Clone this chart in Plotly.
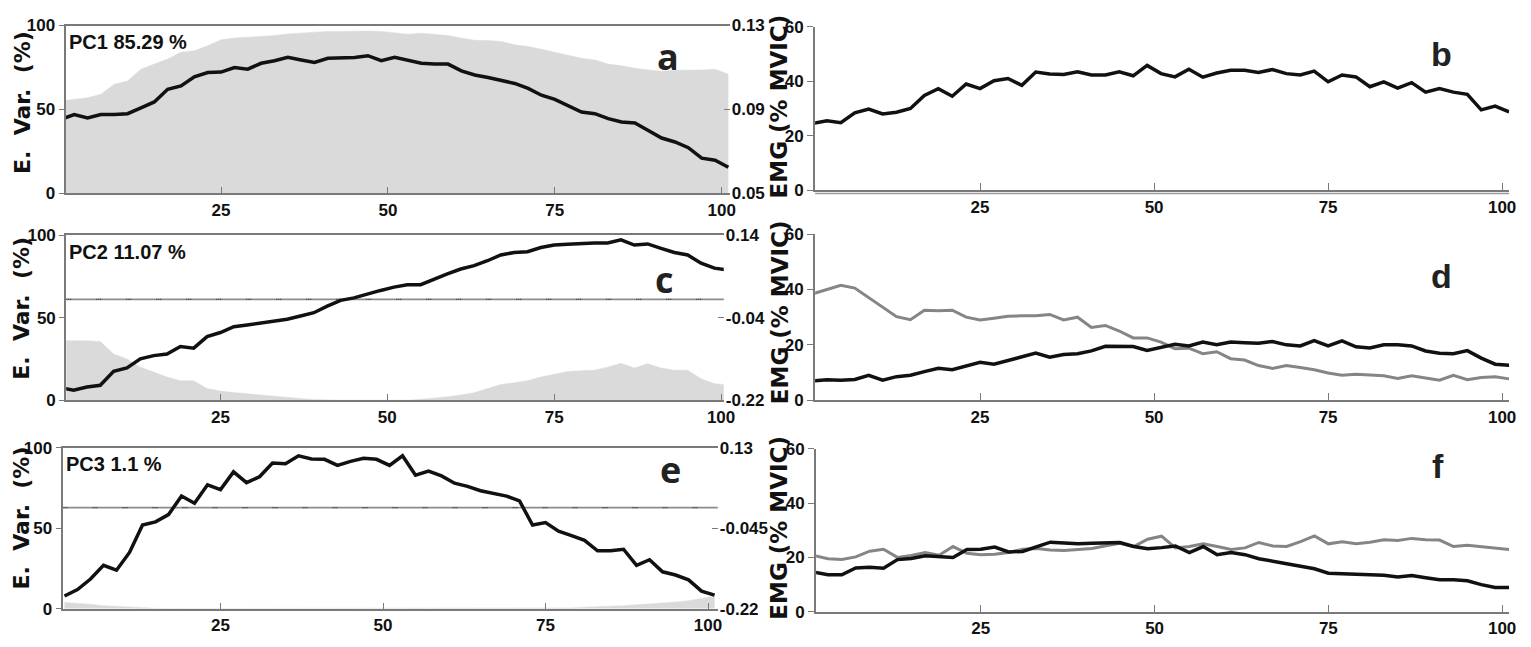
import plotly.graph_objects as go

# Normalised time (% of cycle), sampled every second point
t = list(range(1, 102, 2))

# PC1: explained variance (%) and loading vector
pc1_var = [55, 56, 57, 59, 65, 67, 74, 77, 80, 84, 85, 88, 91.5, 92.5, 93, 93.5, 94, 95, 95.5, 96,
           96.5, 96.5, 96.7, 96.7, 96.5, 95.5, 94.8, 95.4, 94.8, 94, 92.5, 91.2, 91, 90.5, 88.5, 87.5,
           85.8, 84, 82, 80.5, 79.5, 77, 76, 74.5, 73.5, 72.8, 73.4, 73.4, 73.5, 74, 71]
pc1_load = [0.0852, 0.0876, 0.086, 0.0876, 0.0876, 0.088, 0.0908, 0.0936, 0.0996, 0.1012, 0.1056,
            0.1076, 0.1078, 0.11, 0.1092, 0.112, 0.1132, 0.1148, 0.1136, 0.1124, 0.1144, 0.1144,
            0.1148, 0.1156, 0.1132, 0.1148, 0.1136, 0.112, 0.1116, 0.1116, 0.1084, 0.1064, 0.1052,
            0.1036, 0.1024, 0.1, 0.0968, 0.0948, 0.0916, 0.0888, 0.088, 0.0856, 0.084, 0.0836, 0.08,
            0.0764, 0.0745, 0.0718, 0.0668, 0.0658, 0.0625]

# PC2
pc2_var = [36, 36, 36, 35.5, 28, 25, 20, 17, 14, 11.8, 11.8, 7, 5.5, 4.6, 3.8, 3, 2.5, 1.8, 1, 0.4,
           0, 0, 0, 0, 0, 0, 0, 0.5, 1.2, 2, 3.2, 4.5, 7, 9.5, 10.5, 11.8, 14, 15.5, 17.3, 17.8, 18.2,
           20, 22.4, 19.5, 22, 19.5, 18.2, 18.2, 13, 10, 9.4]
pc2_load = [-0.1926, -0.1984, -0.1912, -0.1876, -0.157, -0.1498, -0.13, -0.1228, -0.1192, -0.103,
            -0.1066, -0.0814, -0.0724, -0.0598, -0.0562, -0.0526, -0.049, -0.0436, -0.0364, -0.0292,
            -0.0148, -0.0022, 0.0032, 0.0122, 0.0194, 0.0266, 0.032, 0.032, 0.0446, 0.0554, 0.0662,
            0.0734, 0.0842, 0.0968, 0.1022, 0.104, 0.113, 0.1184, 0.1202, 0.122, 0.1231, 0.1231,
            0.1299, 0.1184, 0.1209, 0.1112, 0.1022, 0.0968, 0.0788, 0.068, 0.0637]

# PC3
pc3_var = [4, 3.5, 2.8, 2, 1.5, 1, 0.5, 0.3, 0.2, 0.2, 0.2, 0.2, 0.2, 0.2, 0.2, 0.2, 0.3, 0.4, 0.5,
           0.5, 0.5, 0.5, 0.5, 0.4, 0.3, 0.3, 0.3, 0.3, 0.2, 0.2, 0.2, 0.2, 0.2, 0.2, 0.2, 0.2, 0.3,
           0.3, 0.4, 0.6, 1, 1.2, 1.5, 2, 2.5, 3, 3.5, 4.2, 5, 6.5, 8]
pc3_load = [-0.192, -0.178, -0.1553, -0.1255, -0.136, -0.0975, -0.038, -0.031, -0.0153, 0.025,
            0.0093, 0.0495, 0.039, 0.0775, 0.0541, 0.067, 0.0968, 0.095, 0.1125, 0.1055, 0.1048,
            0.0915, 0.1003, 0.1069, 0.1048, 0.0915, 0.1125, 0.0705, 0.0793, 0.0688, 0.053, 0.046,
            0.0366, 0.0303, 0.025, 0.0145, -0.038, -0.0324, -0.0513, -0.0608, -0.0713, -0.094,
            -0.094, -0.0905, -0.1255, -0.1133, -0.1395, -0.1465, -0.157, -0.1815, -0.1903]

# EMG envelopes (% MVIC)
emg_b = [24.5, 25.5, 24.8, 28.4, 29.8, 28, 28.6, 30, 34.8, 37.3, 34.5, 39, 37.3, 40.2, 41, 38.5,
         43.4, 42.7, 42.5, 43.5, 42.3, 42.3, 43.5, 42, 45.8, 42.8, 41.6, 44.4, 41.5, 43, 44, 44,
         43.2, 44.3, 42.8, 42.3, 43.7, 39.8, 42.3, 41.6, 38, 39.8, 37.5, 39.5, 36, 37.3, 36, 35.2,
         29.5, 30.9, 28.8]
emg_d_black = [7, 7.4, 7.2, 7.5, 9, 7.2, 8.5, 9, 10.3, 11.5, 11, 12.5, 13.7, 13, 14.4, 15.8, 17,
               15.5, 16.5, 16.8, 17.8, 19.5, 19.3, 19.4, 18, 19, 20.2, 19.6, 21, 20, 21, 20.8, 20.6,
               21.2, 20, 19.6, 21.5, 19.6, 21.4, 19.3, 18.9, 20, 20, 19.6, 17.8, 17, 16.8, 17.9,
               15.2, 13, 12.6]
emg_d_gray = [38.5, 40, 41.5, 40.5, 37, 33.5, 30.2, 29.1, 32.5, 32.3, 32.5, 30, 29, 29.6, 30.3,
              30.5, 30.5, 31, 29, 30, 26.3, 27, 25, 22.5, 22.5, 21, 18.6, 18.8, 16.8, 17.5, 15,
              14.5, 12.5, 11.5, 12.5, 11.8, 11, 9.8, 9, 9.4, 9.2, 8.8, 7.8, 8.8, 8, 7.2, 9, 7.4,
              8.2, 8.5, 7.7]
emg_f_black = [14.6, 13.6, 13.6, 16.1, 16.4, 16, 19.2, 19.6, 20.6, 20.2, 20, 22.9, 23, 23.8, 22,
               22.2, 23.8, 25.6, 25.3, 25, 25.2, 25.3, 25.5, 24, 23.2, 23.6, 24.2, 21.8, 24, 21,
               21.8, 21, 19.5, 18.6, 17.6, 16.8, 15.8, 14.2, 14, 13.6, 13.4, 13.4, 12.8, 13.3,
               12.5, 11.8, 11.8, 11.4, 10, 8.9, 8.9]
emg_f_gray = [20.7, 19.5, 19.2, 20.2, 22.3, 23, 20, 20.7, 21.8, 20.8, 24, 21.5, 21, 21.2, 21.8,
              23, 23.3, 22.7, 22.5, 22.9, 23.3, 24.3, 25.2, 24, 26.7, 27.8, 23.5, 24, 25, 24, 22.9,
              23.5, 25.5, 24.2, 24, 25.8, 27.9, 25, 25.8, 25, 25.6, 26.5, 26.2, 27, 26.5, 26.4, 24,
              24.5, 24, 23.5, 22.9]

pc_titles = ["PC1 85.29 %", "PC2 11.07 %", "PC3 1.1 %"]
panel_letters = ["a", "b", "c", "d", "e", "f"]
x_ticks = [25, 50, 75, 100]
var_ticks = [0, 50, 100]
emg_ticks = [0, 20, 40, 60]
load_ticks = [[0.05, 0.09, 0.13], [-0.22, -0.04, 0.14], [-0.22, -0.045, 0.13]]
load_ticktext = [["0.05", "0.09", "0.13"], ["-0.22", "-0.04", "0.14"], ["-0.22", "-0.045", "0.13"]]

W, H = 1531, 647
ARIAL = "Liberation Sans, Arial, sans-serif"
WIDE = "DejaVu Sans, Arial, sans-serif"
BLACK = "#111111"
GREY_LINE = "#858585"
FILL = "#dadada"
AXIS = "#7a7a7a"


def px_dom(a, b, total):
    return [a / total, b / total]


def py_dom(top, bottom):
    return [1 - bottom / H, 1 - top / H]


fig = go.Figure()

# left column: (x domain px, y domain px, x range)
left_geo = [
    ((66, 735), (17, 190), [1.7, 101.2]),
    ((66.7, 729), (233, 403), [1.9, 100.4]),
    ((63, 723), (452, 618), [0.7, 101.5]),
]
right_geo = [
    ((821, 1520), (18.3, 186.7)),
    ((821, 1520), (232, 403)),
    ((822, 1520), (453, 621)),
]

pc_vars = [pc1_var, pc2_var, pc3_var]
pc_loads = [pc1_load, pc2_load, pc3_load]

tick_font = dict(family=ARIAL, size=17, color=BLACK, weight="bold")

for i in range(3):
    xa = "x" if i == 0 else f"x{i + 1}"
    ya_l = f"y{2 * i + 1}" if i > 0 else "y"
    ya_r = f"y{2 * i + 2}"
    (x0, x1), (top, bottom), xr = left_geo[i]
    # zero reference of the loading vector
    if i > 0:
        fig.add_shape(type="line", xref=f"{xa} domain", yref=ya_r, x0=0, x1=1, y0=0, y1=0,
                      line=dict(color="#8c8c8c", width=1.6), layer="below")
        fig.add_shape(type="line", xref=f"{xa} domain", yref=ya_r, x0=0, x1=1, y0=0, y1=0,
                      line=dict(color="#3a3a3a", width=1.2, dash="1px,1px,1px,1px,1px,25px"),
                      layer="below")
    fig.add_trace(go.Scatter(x=t, y=pc_vars[i], mode="lines", fill="tozeroy",
                             fillcolor=FILL, line=dict(color=FILL, width=0.5),
                             xaxis=xa, yaxis=ya_l, showlegend=False))
    fig.add_trace(go.Scatter(x=t, y=pc_loads[i], mode="lines",
                             line=dict(color=BLACK, width=3.5),
                             xaxis=xa, yaxis=ya_r, showlegend=False))
    xkey = "xaxis" if i == 0 else f"xaxis{i + 1}"
    ykey_l = "yaxis" if i == 0 else f"yaxis{2 * i + 1}"
    ykey_r = f"yaxis{2 * i + 2}"
    fig.update_layout(**{
        xkey: dict(domain=px_dom(x0, x1, W), range=xr, anchor=ya_l,
                   tickvals=x_ticks, ticks="inside", ticklen=6, tickcolor=AXIS,
                   showline=True, linecolor=AXIS, linewidth=2, mirror=True,
                   showgrid=False, zeroline=False, tickfont=tick_font,
                   ticklabelstandoff=0),
        ykey_l: dict(domain=py_dom(top, bottom), range=[0, 100], anchor=xa,
                     tickvals=var_ticks, ticks="outside", ticklen=5, tickcolor=AXIS,
                     showline=True, linecolor=AXIS, linewidth=2,
                     showgrid=False, zeroline=False, tickfont=tick_font,
                     ticklabelstandoff=0),
        ykey_r: dict(overlaying=ya_l, side="right", anchor=xa,
                     range=[load_ticks[i][0], load_ticks[i][-1]],
                     tickvals=load_ticks[i], ticktext=load_ticktext[i],
                     ticks="inside", ticklen=6, tickcolor=AXIS,
                     showline=False, showgrid=False, zeroline=False,
                     tickfont=tick_font, ticklabelstandoff=1),
    })
    # component label
    fig.add_annotation(text=pc_titles[i], xref="paper", yref="paper",
                       x=(x0 + 1) / W, y=1 - (top + 17) / H, xanchor="left", yanchor="middle",
                       showarrow=False, font=dict(family=ARIAL, size=20, color=BLACK, weight="bold"))

# right column EMG envelopes
emg_sets = [
    [(emg_b, BLACK)],
    [(emg_d_gray, GREY_LINE), (emg_d_black, BLACK)],
    [(emg_f_gray, GREY_LINE), (emg_f_black, BLACK)],
]
for j in range(3):
    n = 4 + j
    xa, ya = f"x{n}", f"y{n + 3}"
    for series, color in emg_sets[j]:
        fig.add_trace(go.Scatter(x=t, y=series, mode="lines",
                                 line=dict(color=color, width=3.5 if color == BLACK else 3),
                                 xaxis=xa, yaxis=ya, showlegend=False))
    (x0, x1), (top, bottom) = right_geo[j]
    fig.update_layout(**{
        f"xaxis{n}": dict(domain=px_dom(x0, x1, W), range=[1.3, 101], anchor=ya,
                          tickvals=x_ticks, ticks="inside", ticklen=7, tickcolor=AXIS,
                          showline=True, linecolor=AXIS, linewidth=2,
                          showgrid=False, zeroline=False, tickfont=tick_font,
                          ticklabelstandoff=0),
        f"yaxis{n + 3}": dict(domain=py_dom(top, bottom), range=[0, 60], anchor=xa,
                              tickvals=emg_ticks, ticks="outside", ticklen=6, tickcolor=AXIS,
                              showline=True, linecolor=AXIS, linewidth=2,
                              showgrid=False, zeroline=False, tickfont=tick_font,
                              ticklabelstandoff=0),
    })
    if j == 0:
        fig.add_shape(type="line", xref="paper", yref="paper",
                      x0=x0 / W, x1=x1 / W, y0=1 - (bottom + 3.5) / H, y1=1 - (bottom + 3.5) / H,
                      line=dict(color="#9a9a9a", width=1.5))

# axis titles
for yc in [96, 308, 524]:
    fig.add_annotation(text="E.  Var.  (%)", xref="paper", yref="paper", x=22 / W, y=1 - yc / H,
                       textangle=-90, showarrow=False, xanchor="center", yanchor="middle",
                       font=dict(family=WIDE, size=22, color=BLACK, weight="bold"))
for yc in [100, 312, 534]:
    fig.add_annotation(text="EMG (% MVIC)", xref="paper", yref="paper", x=785 / W, y=1 - yc / H,
                       textangle=-90, showarrow=False, xanchor="center", yanchor="middle",
                       font=dict(family=WIDE, size=23, color=BLACK, weight="bold"))

# panel letters
letter_pos = [(673, 49), (1452, 46), (669, 279), (1452, 275), (675, 474), (1448, 471)]
for k, (lx, ly) in enumerate(letter_pos):
    if k % 2 == 0:
        f = dict(family="Open Sans, Lato, sans-serif", size=36, color="#222222", weight="bold")
    else:
        f = dict(family=ARIAL, size=34, color="#222222", weight="bold")
    fig.add_annotation(text=panel_letters[k], xref="paper", yref="paper", x=lx / W, y=1 - ly / H,
                       showarrow=False, xanchor="center", yanchor="middle", font=f)

fig.update_layout(width=W, height=H, autosize=False,
                  margin=dict(l=0, r=0, t=0, b=0, pad=0),
                  paper_bgcolor="white", plot_bgcolor="white")

fig.write_html("out.html")
